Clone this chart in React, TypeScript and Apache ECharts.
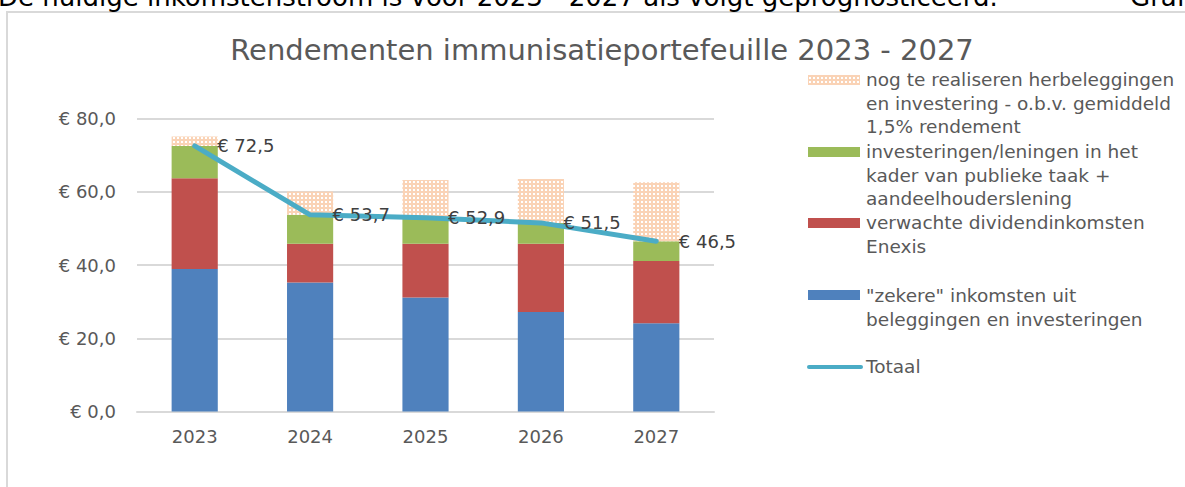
import React, { useEffect, useRef } from "react";
import * as echarts from "echarts";

const years = ["2023", "2024", "2025", "2026", "2027"];
const zekere = [38.9, 35.2, 31.1, 27.2, 24.1];
const dividend = [24.8, 10.6, 14.7, 18.6, 17.0];
const investeringen = [8.8, 7.9, 7.1, 5.7, 5.4];
const nogTeRealiseren = [2.6, 6.4, 10.3, 12.0, 16.1];
const totaal = [72.5, 53.7, 52.9, 51.5, 46.5];
const yTicks = [0, 20, 40, 60, 80];

const seriesNames = [
  "nog te realiseren herbeleggingen\nen investering - o.b.v. gemiddeld\n1,5% rendement",
  "investeringen/leningen in het\nkader van publieke taak +\naandeelhouderslening",
  "verwachte dividendinkomsten\nEnexis",
  "\"zekere\" inkomsten uit\nbeleggingen en investeringen",
  "Totaal",
];
const titleText = "Rendementen immunisatieportefeuille 2023 - 2027";
const pageTextLeft = "De huidige inkomstenstroom is voor 2023 - 2027 als volgt geprognosticeerd.";
const pageTextRight = "Grafiek";

const BLUE = "#4F81BD";
const RED = "#C0504D";
const GREEN = "#9BBB59";
const LINE = "#4BACC6";
const FONT = "DejaVu Sans";

function makeHatch(): any {
  const c = document.createElement("canvas");
  c.width = 4;
  c.height = 4;
  const ctx = c.getContext("2d")!;
  ctx.fillStyle = "#FAD3B6";
  ctx.fillRect(0, 0, 4, 4);
  ctx.fillStyle = "#ffffff";
  ctx.fillRect(1, 1, 2, 2);
  return { image: c, repeat: "repeat" };
}

const fmt = (v: number) => "€ " + v.toFixed(1).replace(".", ",");

export default function App() {
  const ref = useRef<HTMLDivElement>(null);
  useEffect(() => {
    if (!ref.current) return;
    const chart = echarts.init(ref.current, undefined, { renderer: "svg" });
    const hatch = makeHatch();

    const legendSymbols = [
      { y: 80, fill: hatch },
      { y: 152, fill: GREEN },
      { y: 223, fill: RED },
      { y: 295, fill: BLUE },
    ];
    const legendTextTops = [80, 152, 223, 296, 367];
    const graphic: any[] = [
      {
        type: "rect",
        shape: { x: 7, y: 12, width: 1300, height: 600 },
        style: { fill: "none", stroke: "#D9D9D9", lineWidth: 2 },
        silent: true,
      },
      {
        type: "text",
        x: -2,
        y: 10,
        style: { text: pageTextLeft, font: `26px ${FONT}`, fill: "#000", verticalAlign: "bottom" },
      },
      {
        type: "text",
        x: 1130,
        y: 10,
        style: { text: pageTextRight, font: `26px ${FONT}`, fill: "#000", verticalAlign: "bottom" },
      },
    ];
    legendSymbols.forEach((s) => {
      graphic.push({
        type: "rect",
        shape: { x: 808, y: s.y - 5, width: 52, height: 10 },
        style: { fill: s.fill },
      });
    });
    graphic.push({
      type: "line",
      shape: { x1: 809, y1: 367, x2: 861, y2: 367 },
      style: { stroke: LINE, lineWidth: 4, lineCap: "round" },
    });
    seriesNames.forEach((n, i) => {
      graphic.push({
        type: "text",
        x: 866,
        y: legendTextTops[i] - 12,
        style: {
          text: n,
          font: `18.5px ${FONT}`,
          fill: "#595959",
          lineHeight: 23.5,
          verticalAlign: "top",
        },
      });
    });

    chart.setOption({
      animation: false,
      title: {
        text: titleText,
        left: 597,
        top: 30,
        textAlign: "center",
        textStyle: { fontFamily: FONT, fontSize: 29, fontWeight: "normal", color: "#595959" },
      },
      grid: { left: 137, right: 471, top: 118.5, bottom: 75.5, containLabel: false },
      xAxis: {
        type: "category",
        data: years,
        axisLine: { lineStyle: { color: "#D9D9D9", width: 2 } },
        axisTick: { show: false },
        axisLabel: { color: "#595959", fontFamily: FONT, fontSize: 18, margin: 16 },
      },
      yAxis: {
        type: "value",
        min: yTicks[0],
        max: yTicks[yTicks.length - 1],
        interval: yTicks[1] - yTicks[0],
        axisLine: { show: false },
        axisTick: { show: false },
        splitLine: { lineStyle: { color: "#D9D9D9", width: 2 } },
        axisLabel: { color: "#595959", fontFamily: FONT, fontSize: 18, margin: 21, formatter: fmt },
      },
      series: [
        { name: seriesNames[3], type: "bar", stack: "s", barWidth: "40%", data: zekere, itemStyle: { color: BLUE } },
        { name: seriesNames[2], type: "bar", stack: "s", data: dividend, itemStyle: { color: RED } },
        { name: seriesNames[1], type: "bar", stack: "s", data: investeringen, itemStyle: { color: GREEN } },
        { name: seriesNames[0], type: "bar", stack: "s", data: nogTeRealiseren, itemStyle: { color: hatch } },
        {
          name: seriesNames[4],
          type: "line",
          data: totaal,
          z: 5,
          showSymbol: true,
          symbol: "circle",
          symbolSize: 1,
          itemStyle: { color: LINE },
          lineStyle: { color: LINE, width: 5, cap: "round", join: "round" },
          label: {
            show: true,
            position: "right",
            distance: 22,
            color: "#404040",
            fontFamily: FONT,
            fontSize: 18,
            formatter: (p: any) => fmt(p.value),
          },
        },
      ],
      graphic,
    });
    return () => chart.dispose();
  }, []);
  return (
    <div
      ref={ref}
      style={{ position: "absolute", left: 0, top: 0, width: 1185, height: 487, background: "#fff" }}
    />
  );
}
